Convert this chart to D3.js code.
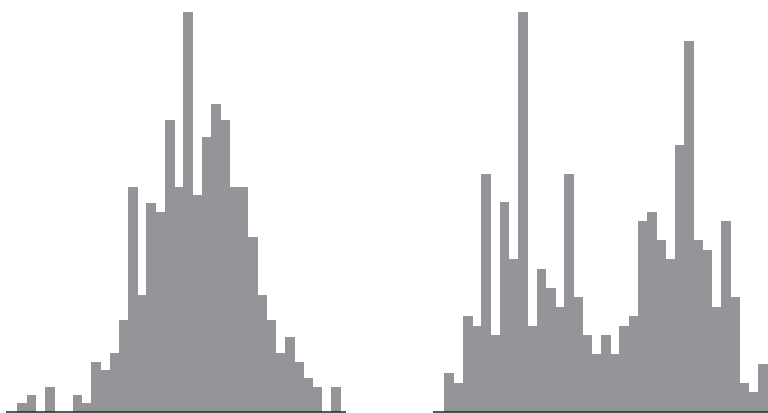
<!DOCTYPE html>
<html>
<head>
<meta charset="utf-8">
<script src="https://cdn.jsdelivr.net/npm/d3@7"></script>
<style>
  html, body { margin: 0; padding: 0; background: #ffffff; }
  svg { display: block; }
</style>
</head>
<body>
<div id="chart"></div>
<script>
// Histogram counts (35 equal-width bins per panel)
const unimodalCounts = [1, 2, 0, 3, 0, 0, 2, 1, 6, 5, 7, 11, 27, 14, 25, 24, 35, 27, 48, 26, 33, 37, 35, 27, 27, 21, 14, 11, 7, 9, 6, 4, 3, 0, 3];
const bimodalCounts = [4, 3, 10, 9, 25, 8, 22, 16, 42, 9, 15, 13, 11, 25, 12, 8, 6, 8, 6, 9, 10, 20, 21, 18, 16, 28, 39, 18, 17, 11, 20, 12, 3, 2, 5];
const panels = [
  { name: "unimodal", counts: unimodalCounts },
  { name: "bimodal", counts: bimodalCounts }
];

const W = 768, H = 413;
const svg = d3.select("#chart").append("svg").attr("width", W).attr("height", H);

const panelOffsets = [0, 427];
const binCount = 35;
const baseY = 411.5, topY = 12;

panels.forEach((p, i) => {
  const off = panelOffsets[i];
  const x = d3.scaleLinear().domain([0, binCount]).range([off + 17.3, off + 340]);
  const y = d3.scaleLinear().domain([0, d3.max(p.counts)]).range([baseY, topY]);
  const g = svg.append("g").attr("class", p.name);

  g.selectAll("rect")
    .data(p.counts.map((c, k) => ({ c, k })).filter(d => d.c > 0))
    .join("rect")
    .attr("x", d => x(d.k))
    .attr("width", d => x(d.k + 1) - x(d.k) + 0.6)
    .attr("y", d => y(d.c))
    .attr("height", d => y(0) - y(d.c))
    .attr("fill", "#939598")
    .attr("shape-rendering", "crispEdges");

  g.append("line")
    .attr("x1", off + 6).attr("x2", off + 346)
    .attr("y1", 412).attr("y2", 412)
    .attr("stroke", "#231f20")
    .attr("stroke-width", 1.5);
});
</script>
</body>
</html>
